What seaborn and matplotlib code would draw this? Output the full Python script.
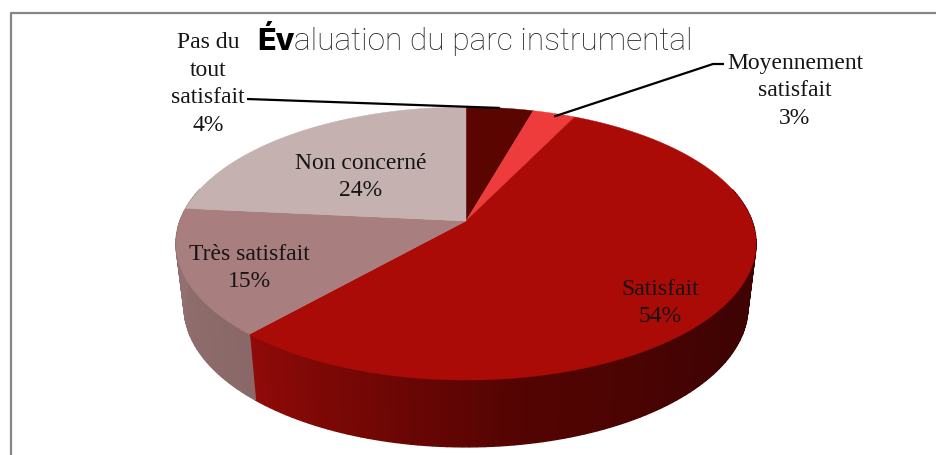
import numpy as np
import matplotlib
matplotlib.use("Agg")
import matplotlib.pyplot as plt
import seaborn as sns

# ---- data ----
categories = ["Pas du\ntout\nsatisfait", "Moyennement\nsatisfait", "Satisfait", "Très satisfait", "Non concerné"]
values = [4.4, 2.8, 54.45, 15.0, 23.5]
title_bold = "Év"
title_rest = "aluation du parc instrumental"

# ---- styles ----
top_colors = ["#5A0500", "#EE3B3B", "#AB0B07", "#A87E7E", "#C6B1B1"]
wall_colors = [["#5A0500", "#5A0500"], ["#C03030", "#C03030"],
               ["#400303", "#400303", "#400303", "#540402", "#8F0A08"],
               ["#8B6868", "#937272"], ["#9A8686", "#9A8686"]]
label_pos = [(208, 84), (795, 91), (660, 303), (249, 268), (361, 177)]
W, H = 937, 456
CX, CY_TOP, CY_BOT = 466, 222, 285
RX_TOP, RX_BOT = 286, 278
S_TOP, S_BOT = 132.8, 136
K = 0.165

sns.set_theme(style="white")
plt.rcParams["font.family"] = ["Liberation Serif", "DejaVu Serif"]
fig = plt.figure(figsize=(W / 100, H / 100), dpi=100)
ax = fig.add_axes([0, 0, 1, 1])
ax.set_xlim(0, W)
ax.set_ylim(H, 0)
ax.axis("off")


def project(theta, rx, s, cy):
    u, v = np.sin(theta), np.cos(theta)
    w = 1 + K * v
    return CX + rx * u / w, cy - s * v / w


edges = np.r_[0, np.cumsum(values)] / np.sum(values) * 2 * np.pi

# side wall: front part of the rim, drawn as fine strips
for a0, a1, cols in zip(edges[:-1], edges[1:], wall_colors):
    n = max(2, int((a1 - a0) * 45))
    pal = sns.blend_palette(cols, n)
    th = np.linspace(a0, a1, n + 1)
    for i in range(n):
        if np.cos((th[i] + th[i + 1]) / 2) > 0.25:
            continue
        t = np.linspace(th[i], th[i + 1], 5)
        xt, yt = project(t, RX_TOP, S_TOP, CY_TOP)
        xb, yb = project(t, RX_BOT, S_BOT, CY_BOT)
        ax.fill(np.r_[xt, xb[::-1]], np.r_[yt, yb[::-1]], color=pal[i], lw=1.0, zorder=1)

# top face
for a0, a1, c in zip(edges[:-1], edges[1:], top_colors):
    t = np.linspace(a0, a1, 200)
    x, y = project(t, RX_TOP, S_TOP, CY_TOP)
    ax.fill(np.r_[CX, x], np.r_[CY_TOP, y], color=c, lw=0.3, zorder=2)

# labels
for name, val, (lx, ly) in zip(categories, values, label_pos):
    ax.text(lx, ly, f"{name}\n{round(val)}%", ha="center", va="center", fontsize=17,
            color="#151515", linespacing=1.41, zorder=5)

# leader lines, ending on the slice's mid-angle at the rim
mids = (edges[:-1] + edges[1:]) / 2
x0, y0 = project(mids[0], RX_TOP, S_TOP, CY_TOP)
ax.plot([247, x0], [100, y0], color="black", lw=1.6, zorder=4, solid_capstyle="butt")
x1, y1 = project(mids[1], RX_TOP, S_TOP, CY_TOP)
ax.plot([x1, 713, 724], [y1 + 3, 65, 65], color="black", lw=1.6, zorder=4, solid_capstyle="butt")

# frame
ax.plot([11.5, 11.5, W], [H, 13.5, 13.5], color="#868686", lw=1.6, zorder=0)

# title in two pieces
fig.canvas.draw()
rend = fig.canvas.get_renderer()
t1 = ax.text(257, 50, title_bold, fontsize=22, fontweight="heavy", family="Inter",
             color="black", ha="left", va="baseline", zorder=5)
x_end = t1.get_window_extent(rend).x1
ax.text(x_end, 50, title_rest, fontsize=22.8, fontweight="light", family="Roboto",
        color="#222222", ha="left", va="baseline", zorder=5)

fig.savefig("out.png", dpi=100, facecolor="white")
